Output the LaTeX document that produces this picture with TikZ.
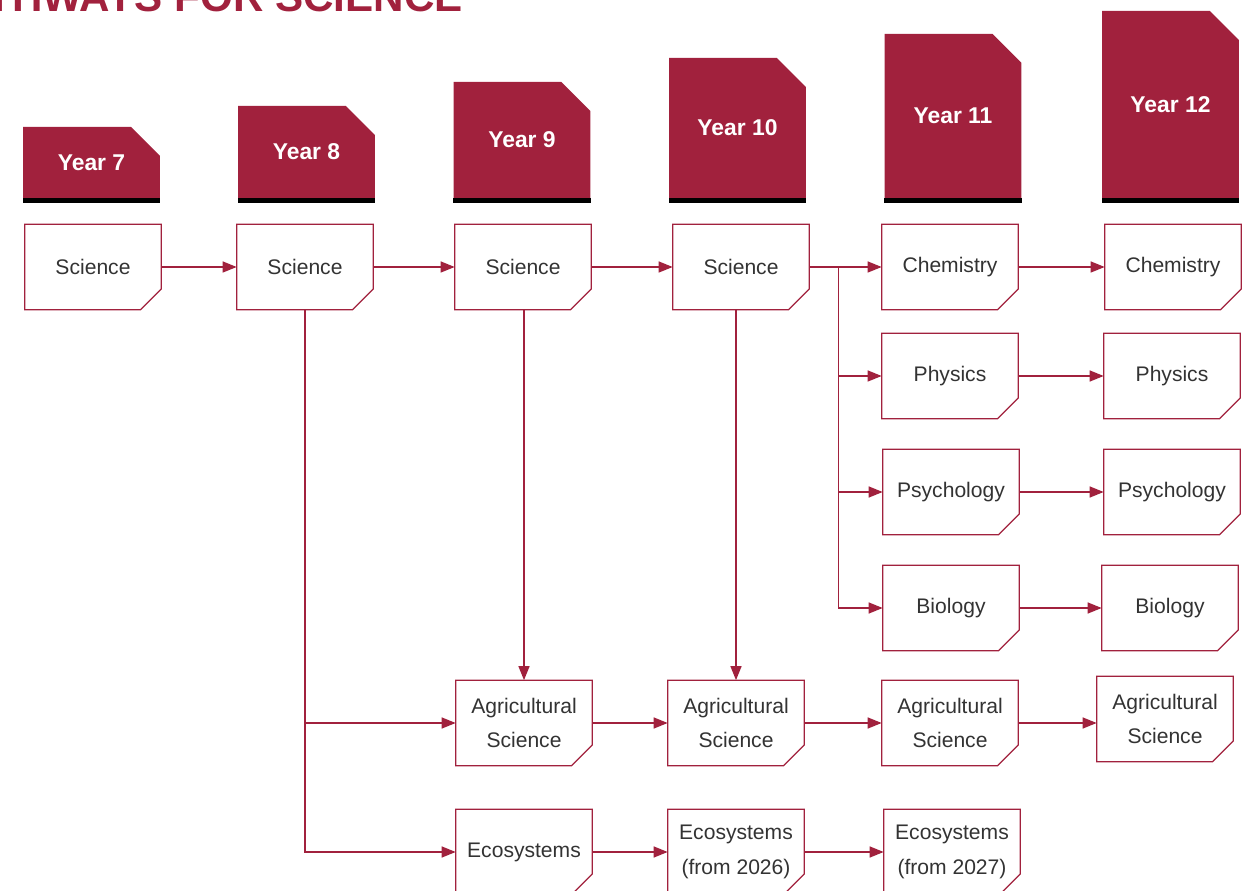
\documentclass[tikz,border=0pt]{standalone}
\usepackage{fontspec}
\setmainfont{Liberation Sans}
\usetikzlibrary{arrows.meta, shapes.misc}
\definecolor{pathred}{HTML}{A1213D}
\definecolor{pathtext}{HTML}{333333}

\begin{document}
\begin{tikzpicture}[x=0.02cm, y=-0.02cm,
    yearbox/.style={chamfered rectangle, chamfered rectangle corners=north east,
                    chamfered rectangle sep=0.42cm, fill=pathred, text=white,
                    minimum width=2.74cm, inner sep=0pt,
                    font=\fontsize{13}{15}\selectfont\bfseries},
    subj/.style={rectangle, minimum width=2.72cm, minimum height=1.7cm,
                 inner sep=0pt, align=center, text=pathtext,
                 font=\fontsize{12}{19.8}\selectfont,
                 append after command={\pgfextra{
                   \draw[draw=pathred, line width=0.7pt, line join=miter]
                     (\tikzlastnode.north west) -- (\tikzlastnode.north east)
                     -- ([yshift=0.42cm]\tikzlastnode.south east)
                     -- ([xshift=-0.42cm]\tikzlastnode.south east)
                     -- (\tikzlastnode.south west) -- cycle;}}},
    link/.style={draw=pathred, line width=0.8pt,
                 -{Triangle[length=0.28cm, width=0.22cm]}}
  ]
    \useasboundingbox (0,0) rectangle (1255,891);

    % title, cut off at the top of the page
    \node[anchor=base east, text=pathred, inner sep=0pt,
          font=\fontsize{24}{28}\selectfont\bfseries] (title) at (463,12)
      {PATHWAYS FOR SCIENCE};

    % year headers
    \foreach \yr/\cx/\top in {7/91.5/127, 8/306.5/106, 9/522/82,
                              10/737.5/58, 11/953/34, 12/1170.5/11}{
      \node[yearbox, minimum height={(198-\top)*0.02cm}] (h\yr)
        at (\cx, {(\top+198)/2}) {Year \yr};
      \fill[black] (h\yr.south west) rectangle ([yshift=-0.1cm]h\yr.south east);
    }

    % subjects
    \node[subj] (sci7)  at (93,267)  {Science};
    \node[subj] (sci8)  at (305,267) {Science};
    \node[subj] (sci9)  at (523,267) {Science};
    \node[subj] (sci10) at (741,267) {Science};

    \node[subj] (chem11) at (950,267)  {Chemistry};
    \node[subj] (chem12) at (1173,267) {Chemistry};
    \node[subj] (phys11) at (950,376)  {Physics};
    \node[subj] (phys12) at (1172,376) {Physics};
    \node[subj] (psy11)  at (951,492)  {Psychology};
    \node[subj] (psy12)  at (1172,492) {Psychology};
    \node[subj] (bio11)  at (951,608)  {Biology};
    \node[subj] (bio12)  at (1170,608) {Biology};

    \node[subj] (agri9)  at (524,723)  {Agricultural\\Science};
    \node[subj] (agri10) at (736,723)  {Agricultural\\Science};
    \node[subj] (agri11) at (950,723)  {Agricultural\\Science};
    \node[subj] (agri12) at (1165,719) {Agricultural\\Science};

    \node[subj] (eco9)  at (524,852) {Ecosystems};
    \node[subj] (eco10) at (736,852) {Ecosystems\\(from 2026)};
    \node[subj] (eco11) at (952,852) {Ecosystems\\(from 2027)};

    % pathways
    \draw[link] (sci7) -- (sci8);
    \draw[link] (sci8) -- (sci9);
    \draw[link] (sci9) -- (sci10);
    \draw[link] (sci10) -- (chem11);
    \draw[link] (sci8.south) |- (agri9.west);
    \draw[link] (sci8.south) |- (eco9.west);
    \draw[link] (sci9.south -| agri9.north) -- (agri9.north);
    \draw[link] (sci10.south -| agri10.north) -- (agri10.north);

    \coordinate (fork) at ([xshift=0.58cm]sci10.east);
    \draw[link] (fork) |- (phys11.west);
    \draw[link] (fork) |- (psy11.west);
    \draw[link] (fork) |- (bio11.west);

    \draw[link] (chem11) -- (chem12);
    \draw[link] (phys11) -- (phys12);
    \draw[link] (psy11) -- (psy12);
    \draw[link] (bio11) -- (bio12);

    \draw[link] (agri9) -- (agri10);
    \draw[link] (agri10) -- (agri11);
    \draw[link] (agri11.east) -- (agri11.east -| agri12.west);
    \draw[link] (eco9) -- (eco10);
    \draw[link] (eco10) -- (eco11);
  \end{tikzpicture}
\end{document}
